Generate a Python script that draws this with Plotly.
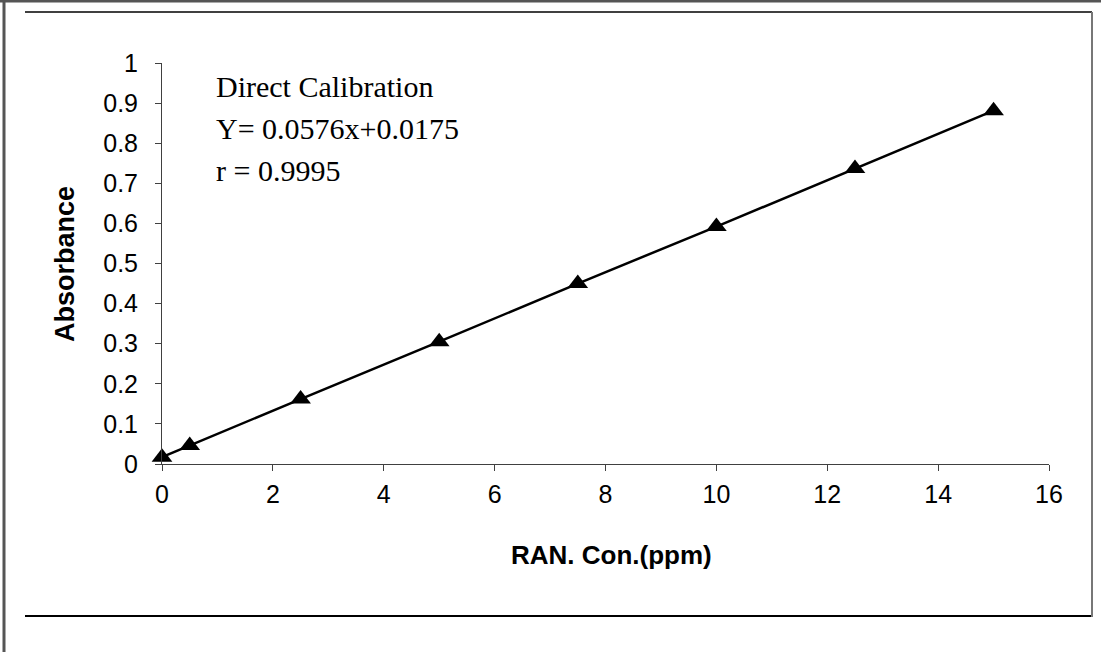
import plotly.graph_objects as go

conc = [0, 0.5, 2.5, 5, 7.5, 10, 12.5, 15]
absorbance = [0.017, 0.046, 0.162, 0.305, 0.450, 0.592, 0.737, 0.881]
x_ticks = [0, 2, 4, 6, 8, 10, 12, 14, 16]
y_ticks = [0, 0.1, 0.2, 0.3, 0.4, 0.5, 0.6, 0.7, 0.8, 0.9, 1]
y_tick_text = ["0", "0.1", "0.2", "0.3", "0.4", "0.5", "0.6", "0.7", "0.8", "0.9", "1"]
notes = ["Direct Calibration", "Y= 0.0576x+0.0175", "r = 0.9995"]

W, H = 1101, 652
L, R, T, B = 162, 52, 63, 188
pw, ph = W - L - R, H - T - B

def px(x):
    return (x - L) / pw

def py(y):
    return (H - B - y) / ph

fig = go.Figure()
fig.add_trace(go.Scatter(
    x=conc, y=absorbance, mode="lines+markers",
    line=dict(color="black", width=2.5),
    marker=dict(symbol="triangle-up", size=18, color="black"),
    showlegend=False, cliponaxis=False,
))

font_tick = dict(family="Liberation Sans, Arial", size=25, color="black")
fig.update_xaxes(range=[0, 16], tickvals=x_ticks, ticks="outside", ticklen=6,
                 tickcolor="#404040", showline=True, linecolor="#404040", linewidth=1,
                 showgrid=False, zeroline=False, tickfont=font_tick, ticklabelstandoff=2)
fig.update_yaxes(range=[0, 1], tickvals=y_ticks, ticktext=y_tick_text, ticks="outside",
                 ticklen=6, tickcolor="#404040", showline=True, linecolor="#404040",
                 linewidth=1, showgrid=False, zeroline=False, tickfont=font_tick,
                 ticklabelstandoff=12)

anns = []
for i, t in enumerate(notes):
    anns.append(dict(text=t, xref="paper", yref="paper", x=px(214), y=py(86 + 42 * i),
                     xanchor="left", yanchor="middle", showarrow=False,
                     font=dict(family="Liberation Serif, Times New Roman", size=30, color="black")))
anns.append(dict(text="<b>RAN. Con.(ppm)</b>", xref="paper", yref="paper", x=px(611), y=py(555),
                 xanchor="center", yanchor="middle", showarrow=False,
                 font=dict(family="Liberation Sans, Arial", size=26, color="black")))
anns.append(dict(text="<b>Absorbance</b>", xref="paper", yref="paper", x=px(65), y=py(264),
                 xanchor="center", yanchor="middle", showarrow=False, textangle=-90,
                 font=dict(family="Liberation Sans, Arial", size=27, color="black")))

shapes = [
    dict(type="line", xref="paper", yref="paper", x0=px(4), x1=px(4), y0=py(0), y1=py(652),
         line=dict(color="#555555", width=3)),
    dict(type="line", xref="paper", yref="paper", x0=px(0), x1=px(1101), y0=py(1), y1=py(1),
         line=dict(color="#555555", width=3)),
    dict(type="line", xref="paper", yref="paper", x0=px(25), x1=px(1092), y0=py(12), y1=py(12),
         line=dict(color="black", width=1.5)),
    dict(type="line", xref="paper", yref="paper", x0=px(25), x1=px(1092), y0=py(616), y1=py(616),
         line=dict(color="black", width=2)),
    dict(type="line", xref="paper", yref="paper", x0=px(1092), x1=px(1092), y0=py(12), y1=py(617),
         line=dict(color="#777777", width=2)),
]

fig.update_layout(width=W, height=H, margin=dict(l=L, r=R, t=T, b=B),
                  plot_bgcolor="white", paper_bgcolor="white",
                  annotations=anns, shapes=shapes)
fig.write_html("out.html")
